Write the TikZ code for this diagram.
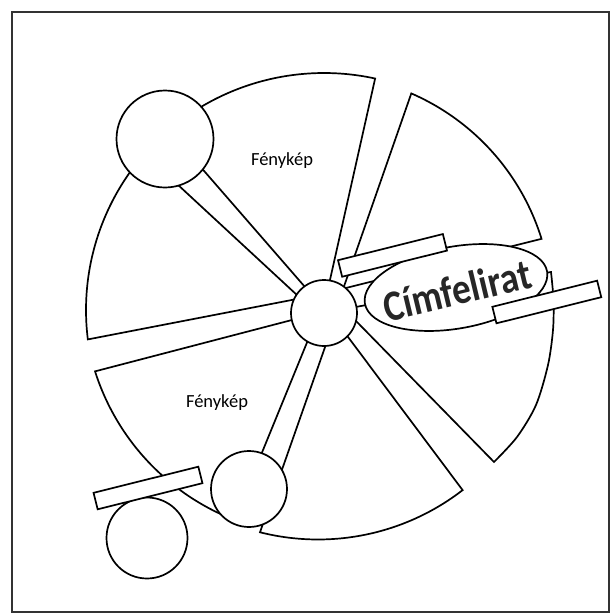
\documentclass[tikz,border=0pt]{standalone}
\usepackage{fontspec}
\setmainfont{Carlito}
\usetikzlibrary{shapes.geometric}
\begin{document}
\begin{tikzpicture}[x=1pt,y=-1pt,
  wedge/.style={draw=black,line width=1.7pt,line join=miter,fill=white},
  disc/.style={circle,draw=black,line width=1.7pt,fill=white,inner sep=0pt},
  bar/.style={rectangle,draw=black,line width=1.7pt,fill=white,minimum width=108pt,minimum height=17pt,inner sep=0pt,rotate=14},
  lbl/.style={font=\fontsize{18.5}{20}\selectfont,inner sep=0pt}]
\useasboundingbox (0,0) rectangle (614,616);
\draw[line width=1.2pt,black!80] (12,12) rectangle (609,612);
% wedges
\draw[wedge] (323.6,308.4) -- plot[domain=-77.7:-127,samples=60] ({324+240*cos(\x)},{313+240*sin(\x)}) -- (185,149) -- cycle;
\draw[wedge] (343.2,288.7) -- plot[domain=-66.5:-17.2,samples=60] ({318+234*cos(\x)},{308+234*sin(\x)}) -- cycle;
\draw[wedge] (344.3,309) -- plot[smooth] coordinates {(551,272) (553.5,300) (553,330) (548,365) (536,405) (517,437) (494,462)} -- cycle;
\draw[wedge] (334.8,319.3) -- plot[domain=52.3:104.2,samples=60] ({318+236.5*cos(\x)},{303+236.5*sin(\x)}) -- cycle;
\draw[wedge] (319.1,312.9) -- plot[domain=162.4:112,samples=60] ({320+236*cos(\x)},{300+236*sin(\x)}) -- (252.8,475) -- cycle;
\draw[wedge] (300.5,298.3) -- (170,177.5) -- plot[domain=222:172.9,samples=60] ({324+238*cos(\x)},{310+238*sin(\x)}) -- cycle;
% circles
\node[disc,minimum size=97pt] (cUL) at (165,139) {};
\node[disc,minimum size=66pt] (cC) at (324,313) {};
\node[disc,minimum size=76pt] (cLo) at (249,489) {};
\node[disc,minimum size=81pt] (cLL) at (147,538) {};
% title ellipse
\node[ellipse,draw=black,line width=1.7pt,fill=white,minimum width=185pt,minimum height=82pt,inner sep=0pt,rotate=10] (ell) at (456,287.5) {};
\node[rotate=13.5,font=\fontsize{38}{40}\selectfont\bfseries,text=black!85,inner sep=0pt] (title) at (457,290) {\scalebox{0.98}[1.14]{Címfelirat}};
% bars
\node[bar] (r1) at (392.5,255.4) {};
\node[bar] (r2) at (546.8,302) {};
\node[bar] (r3) at (148,488) {};
% labels
\node[lbl] (f1) at (282,160.5) {Fénykép};
\node[lbl] (f2) at (217,403) {Fénykép};
\end{tikzpicture}
\end{document}
